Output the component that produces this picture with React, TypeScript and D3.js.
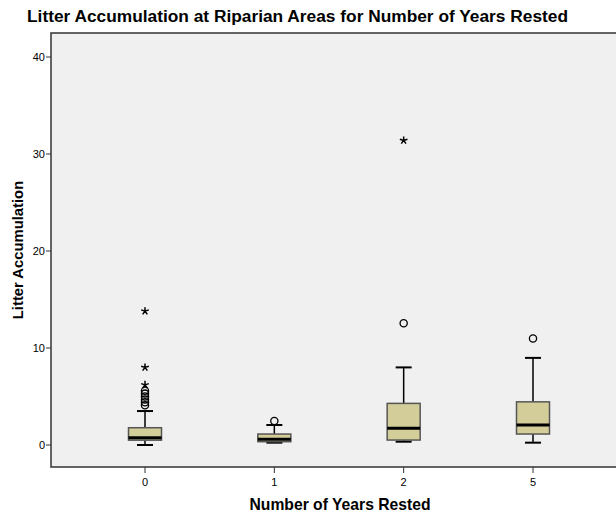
import React from "react";
import * as d3 from "d3";

const categories = ["0", "1", "2", "5"];
const lowerWhisker = [0.0, 0.24, 0.34, 0.24];
const q1 = [0.5, 0.34, 0.51, 1.13];
const median = [0.75, 0.6, 1.72, 2.06];
const q3 = [1.78, 1.13, 4.29, 4.45];
const upperWhisker = [3.5, 2.06, 8.0, 8.98];
const circleOutliers: number[][] = [
  [4.1, 4.4, 4.7, 5.0, 5.3, 5.6],
  [2.47],
  [12.55],
  [10.98],
];
const starOutliers: number[][] = [[6.2, 8.0, 13.8], [], [31.4], []];
const yTicks = [0, 10, 20, 30, 40];

const title = "Litter Accumulation at Riparian Areas for Number of Years Rested";
const xTitle = "Number of Years Rested";
const yTitle = "Litter Accumulation";

const W = 616;
const H = 517;
const frameLeft = 51;
const frameTop = 33;
const frameBottom = 467;
const frameRight = 630;

function starPath(cx: number, cy: number, r: number) {
  let d = "";
  for (let i = 0; i < 5; i++) {
    const a = -Math.PI / 2 + (i * 2 * Math.PI) / 5;
    d += `M${cx},${cy}L${cx + r * Math.cos(a)},${cy + r * Math.sin(a)}`;
  }
  return d;
}

export default function App() {
  const y = d3.scaleLinear().domain([0, 40]).range([445, 57]);
  const x = d3.scalePoint<string>().domain(categories).range([145, 533]);
  const boxW = 33;
  const capW = 16;
  const font = "Arial, 'Liberation Sans', sans-serif";

  return (
    <svg
      width={W}
      height={H}
      style={{ position: "absolute", left: 0, top: 0, background: "#ffffff" }}
      fontFamily={font}
    >
      <rect x={0} y={0} width={W} height={H} fill="#ffffff" />
      <text x={297.5} y={22} textAnchor="middle" fontSize={17.2} fontWeight="bold" fill="#000" textLength={541} lengthAdjust="spacingAndGlyphs">
        {title}
      </text>
      <rect
        x={frameLeft}
        y={frameTop}
        width={frameRight - frameLeft}
        height={frameBottom - frameTop}
        fill="#f0f0f0"
        stroke="#333"
        strokeWidth={1.5}
      />
      {yTicks.map((t) => (
        <g key={t}>
          <line x1={frameLeft - 5} x2={frameLeft} y1={y(t)} y2={y(t)} stroke="#333" strokeWidth={1} />
          <text x={frameLeft - 6} y={y(t) + 4} textAnchor="end" fontSize={11} fill="#000">
            {t}
          </text>
        </g>
      ))}
      {categories.map((c) => (
        <g key={c}>
          <line x1={x(c)!} x2={x(c)!} y1={frameBottom} y2={frameBottom + 6} stroke="#333" strokeWidth={1} />
          <text x={x(c)!} y={frameBottom + 19} textAnchor="middle" fontSize={11} fill="#000">
            {c}
          </text>
        </g>
      ))}
      <text x={340} y={510} textAnchor="middle" fontSize={15.7} fontWeight="bold" fill="#000">
        {xTitle}
      </text>
      <text
        transform={`translate(23,${250}) rotate(-90)`}
        textAnchor="middle"
        fontSize={14.8}
        fontWeight="bold"
        fill="#000"
      >
        {yTitle}
      </text>
      {categories.map((c, i) => {
        const cx = x(c)!;
        return (
          <g key={"b" + c}>
            <line x1={cx} x2={cx} y1={y(upperWhisker[i])} y2={y(q3[i])} stroke="#000" strokeWidth={1.5} />
            <line x1={cx} x2={cx} y1={y(q1[i])} y2={y(lowerWhisker[i])} stroke="#000" strokeWidth={1.5} />
            <line
              x1={cx - capW / 2}
              x2={cx + capW / 2}
              y1={y(upperWhisker[i])}
              y2={y(upperWhisker[i])}
              stroke="#000"
              strokeWidth={2}
            />
            <line
              x1={cx - capW / 2}
              x2={cx + capW / 2}
              y1={y(lowerWhisker[i])}
              y2={y(lowerWhisker[i])}
              stroke="#000"
              strokeWidth={2}
            />
            <rect
              x={cx - boxW / 2}
              y={y(q3[i])}
              width={boxW}
              height={y(q1[i]) - y(q3[i])}
              fill="#d3ce99"
              stroke="#555"
              strokeWidth={1.5}
            />
            <line
              x1={cx - boxW / 2}
              x2={cx + boxW / 2}
              y1={y(median[i])}
              y2={y(median[i])}
              stroke="#000"
              strokeWidth={3}
            />
            {circleOutliers[i].map((v, k) => (
              <circle key={"c" + k} cx={cx} cy={y(v)} r={3.6} fill="none" stroke="#000" strokeWidth={1.3} />
            ))}
            {starOutliers[i].map((v, k) => (
              <path key={"s" + k} d={starPath(cx, y(v), 4)} stroke="#000" strokeWidth={1.5} fill="none" />
            ))}
          </g>
        );
      })}
    </svg>
  );
}
